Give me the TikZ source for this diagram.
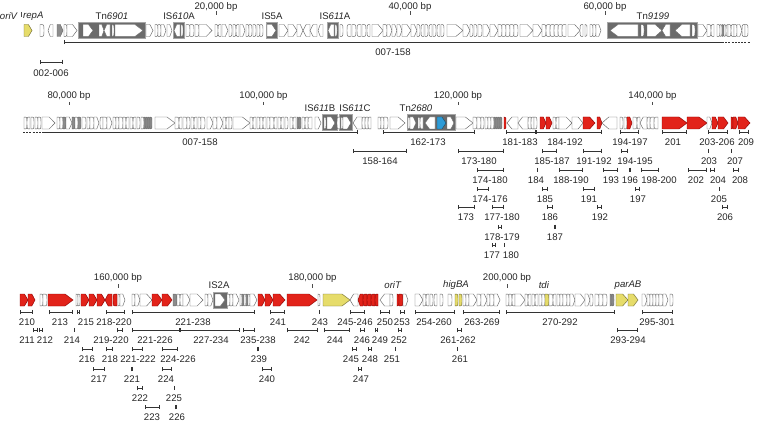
\documentclass[tikz,border=0pt]{standalone}
\usepackage{fontspec}
\setmainfont{Liberation Sans}
\usetikzlibrary{arrows.meta}
\definecolor{gred}{HTML}{E2231A}
\definecolor{gyel}{HTML}{E6DC6A}
\definecolor{gblu}{HTML}{2E9BD6}
\newcounter{nc}
\tikzset{
 GW/.style={draw=black!60, fill=white, line width=0.45pt},
 GR/.style={draw=red!55!black, fill=gred, line width=0.45pt},
 GY/.style={draw=black!50!gyel, fill=gyel, line width=0.45pt},
 GB/.style={draw=black!50!gblu, fill=gblu, line width=0.45pt},
 GK/.style={draw=black!60, fill=black!45, line width=0.45pt},
 tbox/.style={draw=black!35, fill=black!58, line width=1pt},
 sb/.style={line width=0.8pt, draw=black!80, {Bar[width=4.5pt,line width=0.8pt]}-{Bar[width=4.5pt,line width=0.8pt]}},
 lab/.style={font=\fontsize{9.6}{11}\selectfont, inner sep=0pt, text=black!85},
 tk/.style={line width=0.6pt, draw=black!70},
}
\def\hh{6}
\newcommand\gn[4]{%
 \pgfmathsetmacro\L{abs(#2-#1)}%
 \pgfmathsetmacro\sg{sign(#2-#1)}%
 \pgfmathsetmacro\T{#2-\sg*min(0.45*\L,8)}%
 \ifdim\L pt<5pt
   \draw[#4] (#1,#3-\hh) .. controls (#2,#3-\hh) and (#2,#3-\hh) .. (#2,#3) .. controls (#2,#3+\hh) and (#2,#3+\hh) .. (#1,#3+\hh) -- cycle;
 \else
   \draw[#4] (#1,#3-\hh) -- (\T,#3-\hh) -- (#2,#3) -- (\T,#3+\hh) -- (#1,#3+\hh) -- cycle;
 \fi}
\newcommand\sbar[6]{%
 \ifdim #1pt=#2pt
   \draw[line width=0.8pt, draw=black!80] (#1,#3-2.2) -- (#1,#3+2.2);
 \else
   \draw[sb] (#1,#3) -- (#2,#3);
 \fi
 \stepcounter{nc}\node[lab] (n\thenc) at (#4,#5) {#6};}
\newcommand\bp[4]{% x, label y, text, tick y
 \stepcounter{nc}\node[lab] (n\thenc) at (#1,#2) {#3};
 \draw[tk] (#1,#4) -- (#1,#4+3.5);}
\newcommand\tb[3]{\draw[tbox] (#1,#3-8) rectangle (#2,#3+8);}
\begin{document}
\begin{tikzpicture}[x=1pt,y=-1pt]
\useasboundingbox (0,0) rectangle (763,422);
\fill[white] (0,0) rectangle (763,422);
% ---------------- Row 1 ----------------
\def\ry{30.5}
\node[lab, anchor=east] (oriV) at (18,16) {\textit{oriV}};
\draw[tk] (21,12) -- (21,17);
\node[lab, anchor=west] (repA) at (23,16) {\textit{repA}};
\node[lab] (tn6901) at (112,16) {Tn\textit{6901}};
\node[lab] (is610a) at (179,16) {IS\textit{610}A};
\node[lab] (is5a) at (272,16) {IS5A};
\node[lab] (is611a) at (335,16) {IS\textit{611}A};
\node[lab] (tn9199) at (653,16) {Tn\textit{9199}};
\bp{216}{7}{20,000 bp}{11.5}
\bp{410}{7}{40,000 bp}{11.5}
\bp{605}{7}{60,000 bp}{11.5}
\tb{78}{145}{\ry}\tb{173}{184}{\ry}\tb{266}{277}{\ry}\tb{327}{338}{\ry}\tb{607}{697}{\ry}
\foreach \a/\b/\s in {24/32/GY,40/44/GW,53/48/GW,57/63/GK,64/67/GW,67/77/GW,
 83/93/GW,99/104/GW,110/104/GW,112/114/GW,115/143/GW,
 146/153/GW,155/158/GW,158/161/GW,161/166/GW,167/172/GW,180/174/GW,181/183/GW,
 186/190/GW,190/194/GW,195/199/GW,199/212/GW,215/218/GW,221/218/GW,222/228/GW,229/232/GW,233/236/GW,239/236/GW,240/245/GW,246/249/GW,249/252/GW,253/256/GW,257/260/GW,260/263/GW,
 267/276/GW,279/288/GW,288/297/GW,297/303/GW,310/303/GW,317/310/GW,323/318/GW,
 334/328/GW,335/337/GW,
 340/343/GW,351/347/GW,352/356/GW,361/357/GW,362/366/GW,370/367/GW,
 372/383/GW,383/387/GW,387/392/GW,392/397/GW,397/402/GW,402/411/GW,411/417/GW,417/420/GW,424/421/GW,425/428/GW,432/429/GW,433/436/GW,440/437/GW,441/444/GW,447/463/GW,463/470/GW,470/473/GW,474/477/GW,478/482/GW,483/490/GW,490/498/GW,498/502/GW,502/506/GW,506/510/GW,
 510/514/GW,514/518/GW,520/533/GW,533/542/GW,542/546/GW,550/546/GW,554/550/GW,558/554/GW,562/558/GW,566/562/GW,568/580/GW,583/580/GW,585/587/GW,590/593/GW,593/596/GW,596/601/GW,
 638/610/GW,641/644/GW,647/662/GW,670/662/GW,690/675/GW,692/695/GW,
 698/707/GW,707/711/GW,714/711/GW,717/720/GW,720/722/GW,722/724/GK,724/726/GW,728/726/GW,728/731/GW,734/731/GW,734/737/GW,737/742/GW,745/742/GW,745/748/GW}
 {\gn{\a}{\b}{\ry}{\s}}
\draw[sb, {Bar[width=4.5pt,line width=0.8pt]}-] (64,42) -- (722,42);
\draw[line width=0.8pt, draw=black!80, dashed, dash pattern=on 2pt off 1.2pt] (722,42) -- (750,42);
\node[lab] (r1a) at (393,52) {007-158};
\sbar{40}{63}{62}{51}{73}{002-006}
% ---------------- Row 2 ----------------
\def\ry{123}
\bp{69}{96}{80,000 bp}{102}
\bp{263.5}{96}{100,000 bp}{102}
\bp{458}{96}{120,000 bp}{102}
\bp{652.5}{96}{140,000 bp}{102}
\node[lab] (is611b) at (320,108) {IS\textit{611}B};
\node[lab] (is611c) at (355,108) {IS\textit{611}C};
\node[lab] (tn2680) at (416,108) {Tn\textit{2680}};
\tb{322}{337}{\ry}\tb{339}{352}{\ry}\tb{407}{455}{\ry}
\foreach \a/\b/\s in {24/27/GW,30/27/GW,31/34/GW,35/38/GW,38/41/GW,42/55/GW,
 57/60/GW,60/63/GW,63/66/GK,66/72/GW,72/75/GK,75/78/GW,78/81/GK,82/86/GW,87/90/GW,90/94/GW,94/99/GW,103/100/GW,103/107/GW,107/112/GW,113/116/GW,116/119/GW,119/123/GW,123/126/GW,129/126/GW,130/133/GW,136/133/GW,137/140/GW,141/144/GW,144/146/GK,146/148/GK,148/150/GK,150/152/GK,
 155/175/GW,175/179/GW,182/179/GW,183/187/GW,187/190/GW,191/194/GW,197/194/GW,198/201/GW,201/205/GW,207/213/GW,213/217/GW,217/223/GW,223/226/GW,229/226/GW,229/232/GW,233/250/GW,250/253/GW,256/253/GW,257/260/GW,260/263/GW,266/263/GW,267/270/GW,270/274/GW,277/274/GW,278/281/GW,284/281/GW,285/288/GW,290/293/GW,296/293/GW,297/299/GK,299/301/GK,302/305/GW,308/305/GW,312/308/GW,315/321/GW,
 324/326/GW,327/335/GW,340/337/GW,341/343/GW,343/351/GW,
 362/353/GW,365/362/GW,368/365/GW,371/368/GW,378/381/GW,381/384/GW,384/388/GW,390/405/GW,
 408/410/GW,410/416/GW,418/420/GW,423/420/GW,435/425/GW,437/446/GB,447/454/GW,
 456/473/GW,473/477/GW,477/481/GW,481/484/GW,485/488/GW,488/491/GW,491/494/GW,494/496/GK,496/498/GK,498/500/GK,500/502/GK,504/506/GR,
 518/507/GW,528/518/GW,531/528/GW,534/531/GW,534/537/GW,540/546/GR,546/552/GR,553/556/GW,559/556/GW,559/572/GW,572/583/GW,583/595/GR,597/602/GR,617/602/GW,620/623/GW,624/627/GW,627/632/GR,633/637/GW,640/637/GW,647/640/GW,650/647/GW,654/650/GW,658/654/GW,
 662/687/GR,687/707/GR,707/712/GW,712/718/GR,718/728/GR,731/733/GR,733/738/GR,738/750/GR}
 {\gn{\a}{\b}{\ry}{\s}}
\draw[line width=0.8pt, draw=black!80, dashed, dash pattern=on 2pt off 1.2pt] (23,132) -- (42,132);
\draw[sb, -{Bar[width=4.5pt,line width=0.8pt]}] (42,132) -- (358,132);
\node[lab] (r2a) at (200,142) {007-158};
\foreach \x/\y/\v/\lx/\t in {383/475/132/428/162-173, 506/536/132/520/181-183, 536/602/132/565/184-192, 620/639/132/630/194-197, 662/687/132/673/201, 708/728/132/717/203-206, 739/749/132/746/209,
 353/407/151/380/158-164, 458/504/151/479/173-180, 542/557/151/552/185-187, 583/602/151/594/191-192, 621/628/151/635/194-195, 708/708/151/709/203, 731/731/151/735/207,
 477/504/170/490/174-180, 537/537/170/536/184, 559/583/170/571/188-190, 603/618/170/611/193, 629/631/170/630/196, 641/659/170/659/198-200, 688/707/170/696/202, 710/715/170/718/204, 733/739/170/740/208,
 477/489/189/490/174-176, 542/548/189/545/185, 583/595/189/589/191, 635/640/189/638/197, 719/719/189/719/205,
 458/475/207/466/173, 492/504/207/502/177-180, 547/553/207/550/186, 597/602/207/600/192, 722/728/207/725/206,
 498/502/227/502/178-179, 554/556/227/555/187,
 492/496/245/492/177, 504/504/245/511/180}
 {\sbar{\x}{\y}{\v}{\lx}{\v+10.5}{\t}}
% ---------------- Row 3 ----------------
\def\ry{300}
\bp{118}{278}{160,000 bp}{284}
\bp{312.5}{278}{180,000 bp}{284}
\bp{507}{278}{200,000 bp}{284}
\node[lab] (is2a) at (219,285) {IS2A};
\node[lab] (oriT) at (393,285) {\textit{oriT}};
\node[lab] (higBA) at (456,285) {\textit{higBA}};
\node[lab] (tdi) at (544,285) {\textit{tdi}};
\node[lab] (parAB) at (628,285) {\textit{parAB}};
\tb{213}{227}{\ry}
\foreach \a/\b/\s in {20/28/GR,28/35/GR,40/43/GW,43/47/GW,48/73/GR,76/78/GW,78/80/GW,81/89/GR,89/97/GR,97/105/GR,112/105/GR,117/113/GR,118/120/GW,120/125/GW,132/135/GW,135/140/GW,140/152/GW,152/162/GR,162/172/GR,173/177/GK,177/180/GW,183/180/GW,183/190/GW,190/203/GW,205/208/GW,208/213/GW,
 215/225/GW,
 227/230/GW,230/233/GW,233/239/GW,240/242/GW,242/244/GK,244/246/GW,246/248/GK,248/250/GW,250/257/GW,258/265/GR,265/273/GR,273/285/GR,287/317/GR,318/320/GW,323/350/GY,358/350/GW,363/358/GR,367/363/GR,371/367/GR,375/371/GR,378/375/GR,390/380/GW,390/393/GW,397/399/GR,399/403/GR,403/408/GW,
 415/423/GW,423/426/GW,429/426/GW,430/433/GW,437/434/GW,440/443/GW,448/452/GW,455/458/GY,459/462/GY,463/466/GW,466/469/GW,469/477/GW,477/481/GW,481/487/GW,487/490/GW,490/494/GW,494/500/GW,
 506/509/GW,509/512/GW,515/512/GW,515/525/GW,525/528/GW,531/528/GW,532/535/GW,538/535/GW,539/542/GW,542/545/GW,545/549/GY,549/553/GW,556/553/GW,557/560/GW,560/563/GW,563/567/GW,567/570/GW,570/575/GW,575/585/GW,585/590/GW,590/593/GW,595/599/GW,599/603/GW,603/607/GW,610/612/GK,612/614/GK,616/628/GY,628/638/GY,642/647/GW,647/650/GW,650/653/GW,653/656/GW,656/659/GW,659/663/GW,663/668/GW,670/673/GW}
 {\gn{\a}{\b}{\ry}{\s}}
\foreach \x/\y/\v/\lx/\t in {20/33/312/27/210, 49/73/312/60/213, 77/80/312/86/215, 106/125/312/114/218-220, 132/255/312/193/221-238, 270/285/312/278/241, 319/319/312/320/243, 350/365/312/355/245-246, 380/390/312/385/250, 400/405/312/402/253, 415/455/312/434/254-260, 463/500/312/482/263-269, 506/615/312/560/270-292, 642/673/312/657/295-301,
 33/38/330/27/211, 39/43/330/45/212, 74/74/330/72/214, 117/123/330/111/219-220, 132/180/330/155/221-226, 180/240/330/211/227-234, 243/255/330/258/235-238, 287/318/330/302/242, 324/350/330/335/244, 360/365/330/362/246, 375/378/330/380/249, 398/402/330/399/252, 457/462/330/458/261-262, 617/638/330/628/293-294,
 82/93/349/87/216, 106/113/349/110/218, 132/143/349/138/221-222, 162/178/349/178/224-226, 257/259/349/259/239, 352/357/349/351/245, 368/372/349/370/248, 395/395/349/392/251, 457/457/349/460/261,
 93/105/369/99/217, 131/133/369/132/221, 162/172/369/166/224, 262/272/369/267/240, 358/362/369/361/247,
 137/143/388/140/222, 174/174/388/174/225,
 145/160/407/152/223, 175/177/407/177/226}
 {\sbar{\x}{\y}{\v}{\lx}{\v+10}{\t}}
\end{tikzpicture}
\end{document}
